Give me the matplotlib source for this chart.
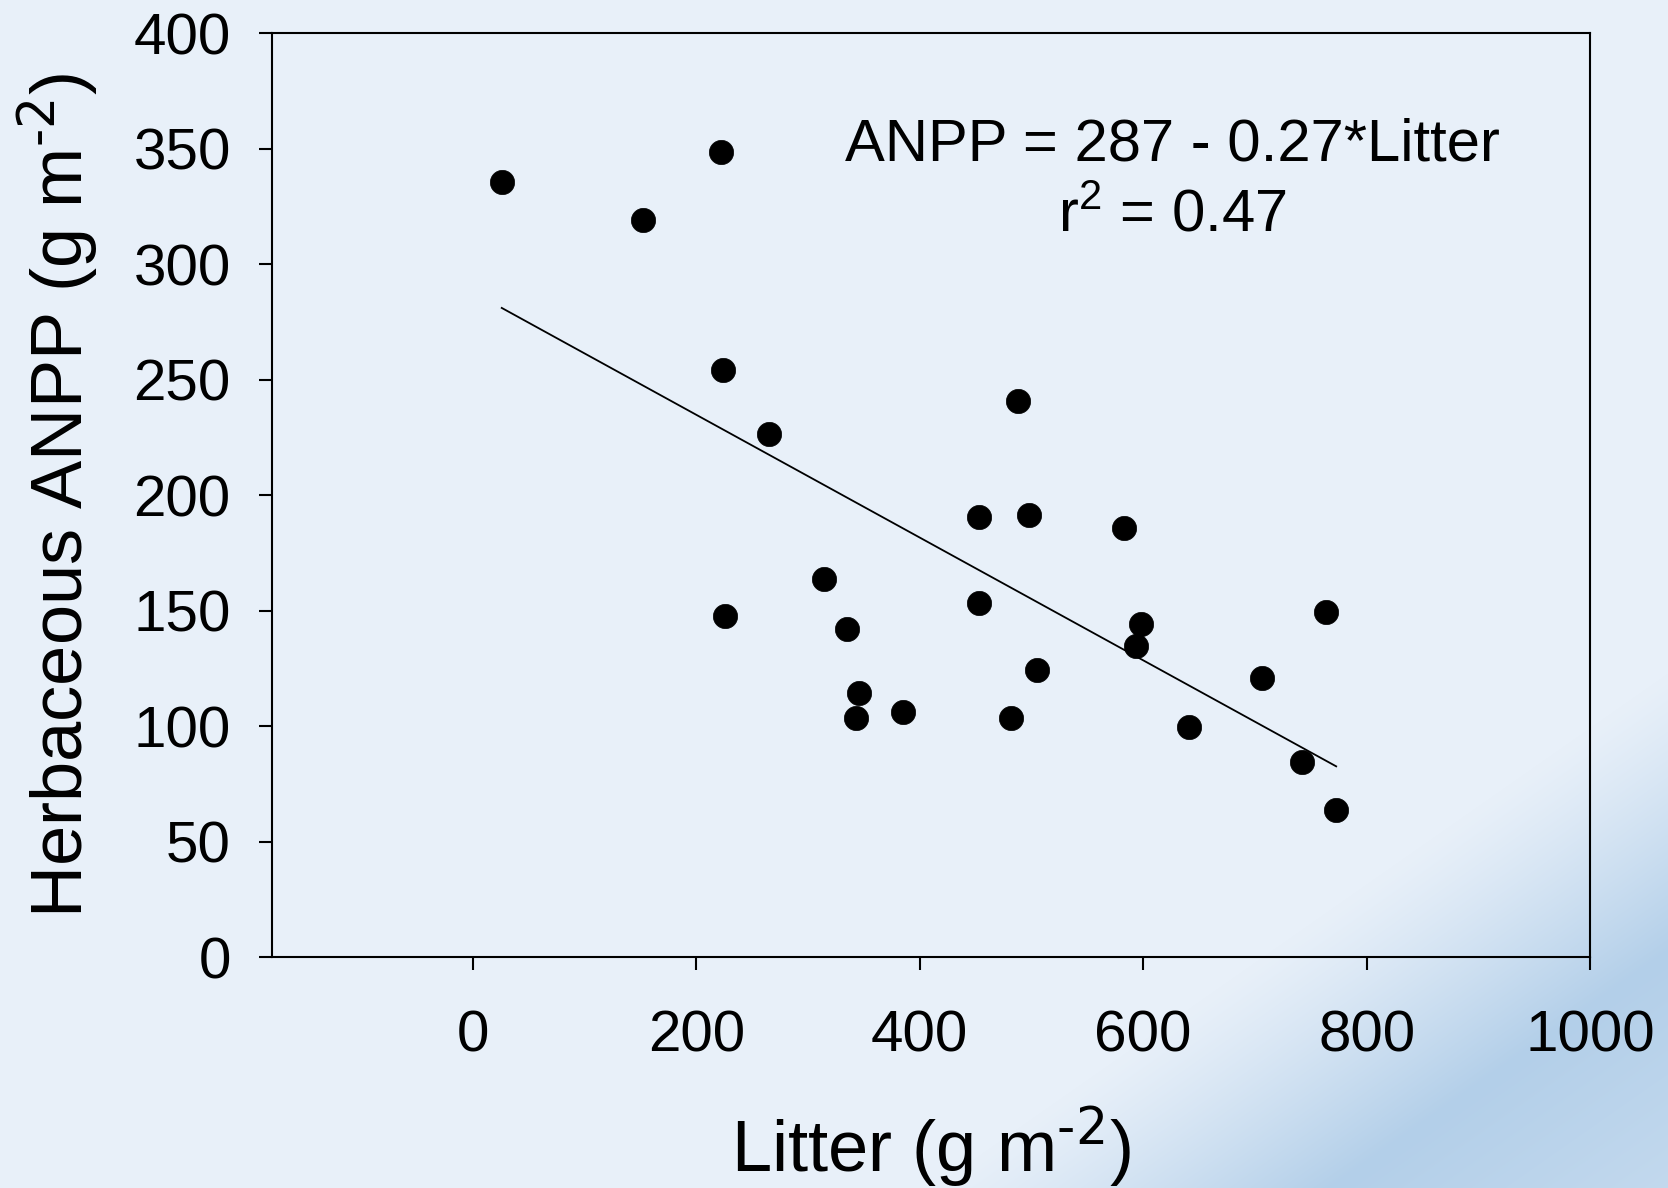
# Herbaceous ANPP vs litter scatter with regression line

import numpy as np
import matplotlib
matplotlib.use('Agg')
import matplotlib.pyplot as plt
from matplotlib.colors import to_rgb

# data
Litter = [25.9, 152.0, 222.6, 224.1, 265.0, 225.8, 314.1, 335.0, 346.0, 342.7,
          384.8, 452.7, 453.0, 487.9, 497.8, 504.6, 481.7, 582.7, 597.9, 593.7,
          641.4, 706.6, 741.9, 763.3, 772.8]
ANPP = [335.5, 319.0, 348.7, 254.4, 226.5, 147.8, 163.9, 142.1, 114.4, 103.6,
        106.1, 190.7, 153.5, 241.0, 191.5, 124.4, 103.7, 185.7, 144.3, 134.9,
        99.7, 121.0, 84.7, 149.4, 63.6]

# regression line as drawn
Fit_intercept = 288.0
Fit_slope = -0.2657

x_ticks = [0, 200, 400, 600, 800, 1000]
y_ticks = [0, 50, 100, 150, 200, 250, 300, 350, 400]

Eq_text = 'ANPP = 287 - 0.27*Litter'
R2_text = r'r$^2$ = 0.47'

plt.rcParams['font.family'] = ['Liberation Sans', 'DejaVu Sans']
plt.rcParams['mathtext.default'] = 'regular'

W, H = 1668, 1188
fig = plt.figure(figsize=(W/100, H/100), dpi=100)

# background: pale blue with a darker diagonal band in the bottom right corner
bg = fig.add_axes([0, 0, 1, 1], zorder=0)
yy, xx = np.mgrid[0:H, 0:W]
d = 0.7*xx + yy
t = np.clip((d-1840)/280, 0, 1)**1.2
t = t - 0.3*np.clip((d-2120)/240, 0, 1)
c0 = np.array(to_rgb('#e8f0f9'))
c1 = np.array(to_rgb('#b3cfe9'))
img = c0[None, None, :]*(1-t[..., None]) + c1[None, None, :]*t[..., None]
bg.imshow(img, extent=[0, W, H, 0], aspect='auto', interpolation='bilinear')
bg.axis('off')

ax = fig.add_axes([0.16289, 0.19419, 0.79035, 0.77778], zorder=1)
ax.set_facecolor('none')

ax.plot(Litter, ANPP, linestyle='none', marker='o', color='black',
        markersize=17.5, markeredgewidth=0.5, zorder=3)

x_line = np.array([min(Litter), max(Litter)])
ax.plot(x_line, Fit_intercept + Fit_slope*x_line, color='black', linewidth=1.3, zorder=2)

ax.set_xlim(-180, 1000)
ax.set_ylim(0, 400)
ax.set_xticks(x_ticks)
ax.set_yticks(y_ticks)
ax.set_xticklabels([str(v) for v in x_ticks])
ax.set_yticklabels([str(v) for v in y_ticks])

for side in ['left', 'right', 'top', 'bottom']:
    ax.spines[side].set_linewidth(1.5)

ax.tick_params(axis='both', direction='out', length=9.5, width=1.5, labelsize=42,
               top=False, right=False)
ax.tick_params(axis='x', pad=28)
ax.tick_params(axis='y', pad=20)

ax.set_xlabel(r'Litter (g m$^{\text{-2}}$)', fontsize=52)
ax.xaxis.label.set_verticalalignment('baseline')
ax.xaxis.set_label_coords(0.5, -0.2320)

ax.set_ylabel(r'Herbaceous ANPP (g m$^{\text{-2}}$)', fontsize=52)
ax.yaxis.label.set_verticalalignment('baseline')
ax.yaxis.set_label_coords(-0.1431, 0.5)

ax.text(626, 345, Eq_text, fontsize=43, ha='center', va='baseline')
ax.text(626, 314, R2_text, fontsize=43, ha='center', va='baseline')

plt.savefig('out.png', dpi=100)
